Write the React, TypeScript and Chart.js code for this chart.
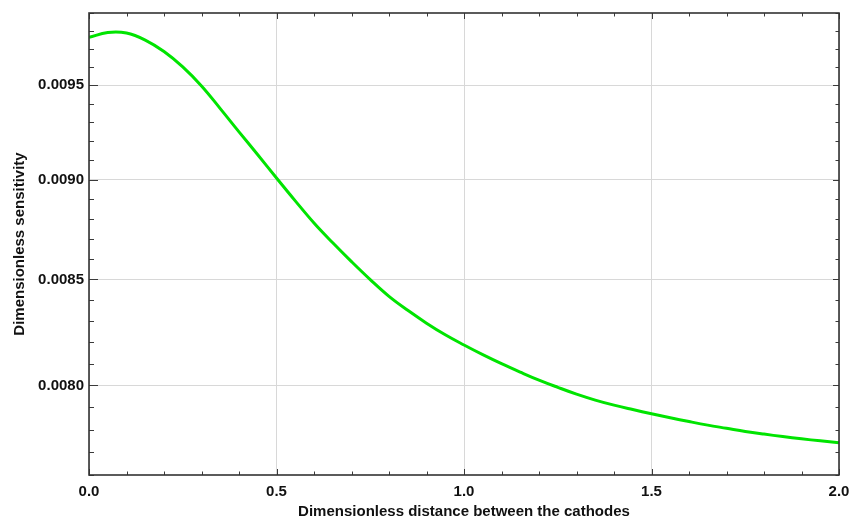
import { useEffect, useRef } from "react";
import { Chart, registerables } from "chart.js";

Chart.register(...registerables);

// Dimensionless distance between the cathodes
const distance = [
  0, 0.05, 0.1, 0.15, 0.2, 0.25, 0.3, 0.35, 0.4, 0.45, 0.5, 0.55, 0.6, 0.65, 0.7, 0.75, 0.8, 0.85, 0.9, 0.95, 1.0,
  1.05, 1.1, 1.15, 1.2, 1.25, 1.3, 1.35, 1.4, 1.45, 1.5, 1.55, 1.6, 1.65, 1.7, 1.75, 1.8, 1.85, 1.9, 1.95, 2.0,
];
// Dimensionless sensitivity
const sensitivity = [
  0.009763, 0.00979, 0.009787, 0.009748, 0.009684, 0.009599, 0.009495, 0.009373, 0.009249, 0.009129, 0.009008,
  0.008891, 0.008779, 0.00868, 0.008587, 0.008499, 0.008418, 0.008351, 0.00829, 0.008235, 0.008187,
  0.008142, 0.0081, 0.008061, 0.008024, 0.007991, 0.00796, 0.007933, 0.00791, 0.00789, 0.007871,
  0.007853, 0.007836, 0.00782, 0.007806, 0.007792, 0.00778, 0.007769, 0.007759, 0.00775, 0.007742,
];

const xTickValues = [0, 0.5, 1.0, 1.5, 2.0];
const yTickValues = [0.008, 0.0085, 0.009, 0.0095];
const xTitle = "Dimensionless distance between the cathodes";
const yTitle = "Dimensionless sensitivity";

const FONT = "'Liberation Sans', Arial, sans-serif";

const framePlugin = {
  id: "frame",
  afterDraw(chart: any) {
    const { ctx, chartArea: a, scales } = chart;
    const xs = scales.x;
    const ys = scales.y;
    ctx.save();
    ctx.strokeStyle = "#3a3a3a";
    ctx.lineWidth = 1;
    const line = (x1: number, y1: number, x2: number, y2: number) => {
      ctx.beginPath();
      ctx.moveTo(x1, y1);
      ctx.lineTo(x2, y2);
      ctx.stroke();
    };
    // minor/major ticks along x (every 0.1)
    for (let i = 0; i <= 20; i++) {
      const px = Math.round(xs.getPixelForValue(i / 10)) + 0.5;
      const len = i % 5 === 0 ? 6 : 3.5;
      line(px, a.bottom, px, a.bottom - len);
      line(px, a.top, px, a.top + len);
    }
    // minor/major ticks along y (every 0.0001)
    for (let i = 76; i <= 99; i++) {
      const py = Math.round(ys.getPixelForValue(i / 10000)) + 0.5;
      const major = i % 5 === 0;
      line(a.left, py, a.left + (major ? 9 : 5), py);
      line(a.right, py, a.right - (major ? 6 : 3.5), py);
    }
    ctx.lineWidth = 1.6;
    ctx.strokeStyle = "#333";
    ctx.strokeRect(a.left, a.top, a.right - a.left, a.bottom - a.top);
    ctx.restore();
  },
};

export default function App() {
  const canvasRef = useRef<HTMLCanvasElement | null>(null);

  useEffect(() => {
    document.body.style.margin = "0";
    const canvas = canvasRef.current;
    if (!canvas) return;
    const chart = new Chart(canvas, {
      type: "line",
      data: {
        datasets: [
          {
            data: distance.map((x, i) => ({ x, y: sensitivity[i] })),
            borderColor: "#00e400",
            borderWidth: 3,
            pointRadius: 0,
            tension: 0.4,
            fill: false,
          },
        ],
      },
      options: {
        animation: false,
        responsive: true,
        maintainAspectRatio: false,
        layout: { padding: { top: 13, right: 13, left: 0, bottom: 0 } },
        plugins: { legend: { display: false }, tooltip: { enabled: false } },
        scales: {
          x: {
            type: "linear",
            min: 0,
            max: 2,
            afterBuildTicks: (s: any) => {
              s.ticks = xTickValues.map((value) => ({ value }));
            },
            afterFit: (s: any) => {
              s.height = 50;
              s.paddingLeft = 0;
              s.paddingRight = 0;
            },
            ticks: {
              autoSkip: false,
              maxRotation: 0,
              padding: 8,
              color: "#111",
              font: { family: FONT, size: 15, weight: "bold" },
              callback: (v: any) => Number(v).toFixed(1),
            },
            grid: { color: "#d8d8d8", lineWidth: 1, drawTicks: false },
            border: { display: false },
            title: {
              display: true,
              text: xTitle,
              color: "#111",
              font: { family: FONT, size: 15, weight: "bold" },
              padding: { top: 0, bottom: 4 },
            },
          },
          y: {
            type: "logarithmic",
            min: 0.0076,
            max: 0.0099,
            afterBuildTicks: (s: any) => {
              s.ticks = yTickValues.map((value) => ({ value }));
            },
            afterFit: (s: any) => {
              s.width = 89;
              s.paddingTop = 0;
              s.paddingBottom = 0;
            },
            ticks: {
              autoSkip: false,
              padding: 5,
              color: "#111",
              font: { family: FONT, size: 15, weight: "bold" },
              callback: (v: any) => Number(v).toFixed(4),
            },
            grid: { color: "#d8d8d8", lineWidth: 1, drawTicks: false },
            border: { display: false },
            title: {
              display: true,
              text: yTitle,
              color: "#111",
              font: { family: FONT, size: 15, weight: "bold" },
              padding: { top: 11, bottom: 0 },
            },
          },
        },
      },
      plugins: [framePlugin],
    } as any);
    return () => chart.destroy();
  }, []);

  return (
    <div style={{ position: "absolute", left: 0, top: 0, width: 852, height: 525, background: "#fff" }}>
      <canvas ref={canvasRef} />
    </div>
  );
}
